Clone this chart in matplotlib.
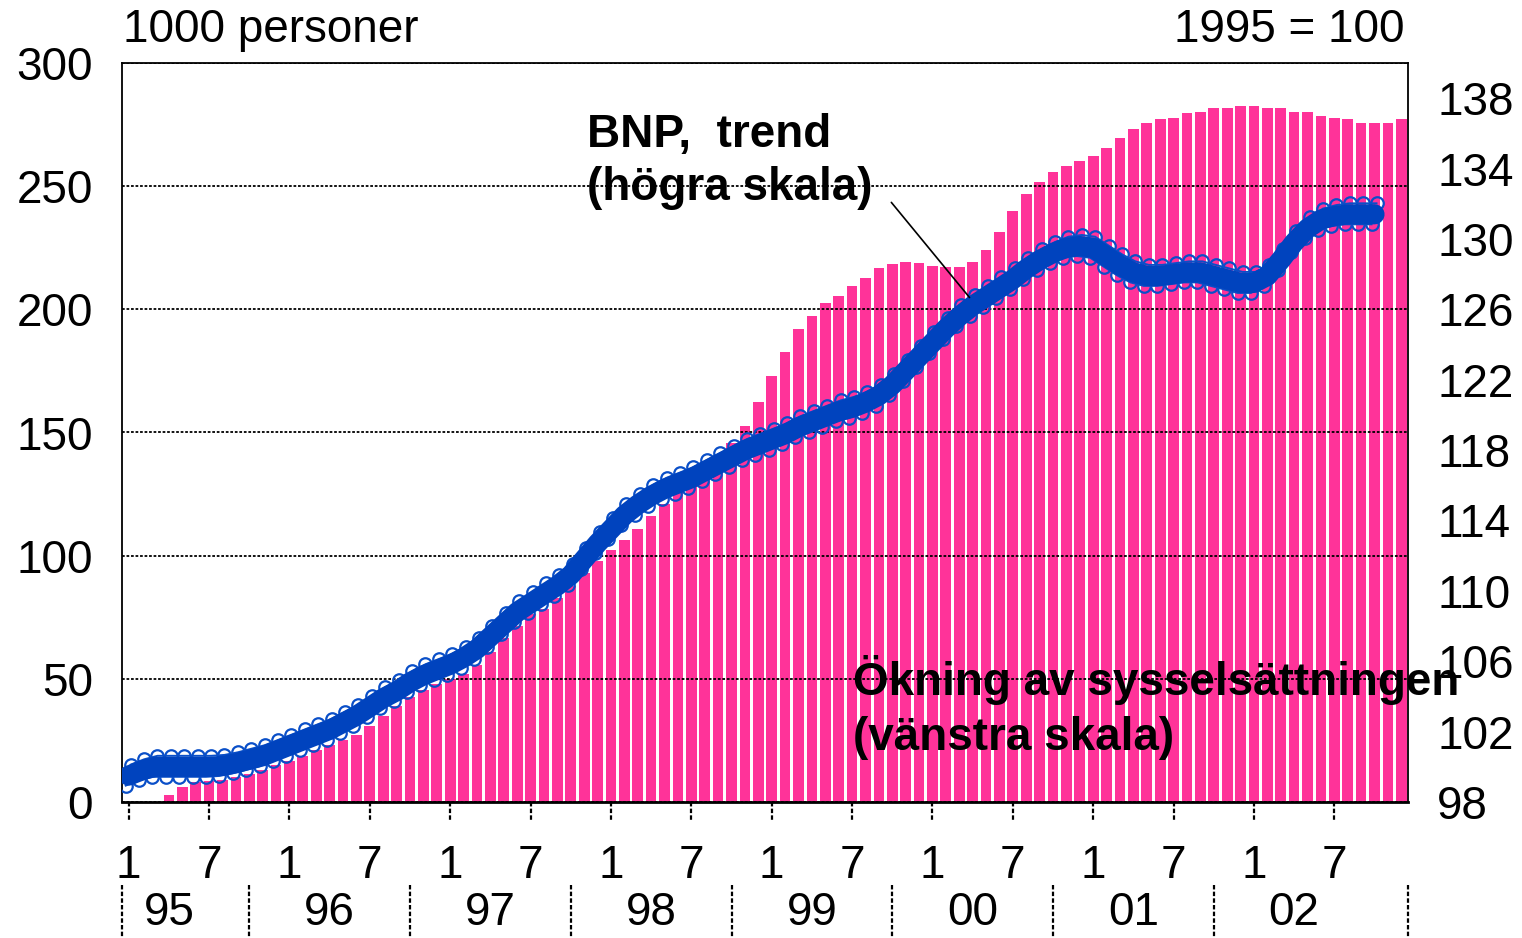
import numpy as np
import matplotlib.pyplot as plt
from matplotlib import transforms

plt.rcParams['font.family'] = ['Liberation Sans', 'DejaVu Sans']

# sysselsättning, ökning sedan jan 1995 (1000 personer), månadsvis 1995-2002
syssel = [0, 0, 0, 3, 6, 8, 8.5, 9, 10, 11.5, 13, 15,
          16.5, 18.5, 21, 23, 25, 27, 31, 35, 39, 42.5, 45.5, 48,
          50, 52, 55.5, 61, 66.5, 71.5, 76.5, 78.5, 83, 87.5, 93, 98,
          102.5, 106.5, 111, 116, 121, 126, 131, 135.5, 140.5, 145.7, 152.6, 162.4,
          172.9, 182.7, 192, 197.3, 202.6, 205.4, 209.5, 212.8, 216.8, 218.6, 219.4, 218.8,
          217.6, 217, 217, 219.2, 224.2, 231.4, 239.8, 247, 251.7, 255.8, 258.2, 260.2,
          262.3, 265.5, 269.6, 273.2, 275.7, 277.3, 277.7, 279.7, 280.1, 281.8, 281.8, 282.6,
          282.6, 281.8, 281.8, 280.1, 280.1, 278.5, 277.7, 277.3, 275.7, 275.7, 275.7, 277.3]

# BNP trend, 1995 = 100 (jan 1995 - okt 2002)
bnp = [99.5, 99.8, 100.0, 100.0, 100.0, 100.0, 100.0, 100.05, 100.2, 100.4, 100.6, 100.9,
       101.2, 101.5, 101.8, 102.1, 102.5, 102.9, 103.4, 103.9, 104.3, 104.8, 105.2, 105.5,
       105.8, 106.2, 106.7, 107.4, 108.1, 108.8, 109.3, 109.8, 110.3, 110.9, 111.8, 112.7,
       113.5, 114.3, 114.9, 115.4, 115.8, 116.1, 116.4, 116.8, 117.2, 117.6, 118.0, 118.3,
       118.6, 118.9, 119.3, 119.6, 119.9, 120.2, 120.4, 120.7, 121.1, 121.7, 122.5, 123.3,
       124.1, 124.9, 125.6, 126.2, 126.7, 127.2, 127.7, 128.3, 128.8, 129.2, 129.5, 129.6,
       129.5, 129.0, 128.5, 128.1, 127.9, 127.9, 128.0, 128.1, 128.1, 127.9, 127.7, 127.5,
       127.5, 127.9, 128.8, 129.8, 130.6, 131.1, 131.3, 131.4, 131.4, 131.4]

years = ['95', '96', '97', '98', '99', '00', '01', '02']
month_labels = ['1', '7']
left_ticks = [0, 50, 100, 150, 200, 250, 300]
right_ticks = [98, 102, 106, 110, 114, 118, 122, 126, 130, 134, 138]

W, H = 1522, 938
fig = plt.figure(figsize=(W / 100, H / 100), dpi=100)
ax = fig.add_axes([122 / W, (H - 802) / H, (1408 - 122) / W, (802 - 63) / H])

x_bar = np.arange(len(syssel)) + 0.5
x_bnp = np.arange(len(bnp)) + 0.5

ax.bar(x_bar, syssel, width=0.8, color='#FF3399', zorder=1)
ax.set_xlim(0, len(syssel))
ax.set_ylim(0, 300)
ax.set_yticks(left_ticks)
ax.yaxis.grid(True, color='black', linestyle=(0, (1.5, 1)), linewidth=1.3, zorder=2)
ax.set_axisbelow(False)
ax.tick_params(axis='y', length=0, pad=21, labelsize=33)
for sp in ax.spines.values():
    sp.set_linestyle((0, (2, 1)))
    sp.set_linewidth(1.3)
ax.spines['bottom'].set_linewidth(2)

# månadsmarkeringar 1 och 7
mpos = np.arange(0, len(syssel), 6) + 0.5
ax.set_xticks(mpos)
ax.set_xticklabels([month_labels[i % 2] for i in range(len(mpos))])
ax.tick_params(axis='x', length=0, pad=30, labelsize=33)
for p in mpos:
    ax.plot([p, p], [0, -20 / 739], transform=ax.get_xaxis_transform(),
            color='black', linestyle=(0, (2, 1)), linewidth=1.6, clip_on=False)

# årsrad
bt = transforms.blended_transform_factory(ax.transData, fig.transFigure)
seps = [0] + [9.5 + 12 * k for k in range(7)] + [len(syssel)]
for s in seps:
    ax.plot([s, s], [1 - 885 / H, 0], transform=bt, color='black',
            linestyle=(0, (2, 1)), linewidth=1.6, clip_on=False)
for k, yl in enumerate(years):
    ax.text(3.5 + 12 * k, 1 - 913 / H, yl, transform=bt, ha='center',
            va='center', fontsize=33)

# höger skala
ax2 = ax.twinx()
ax2.set_ylim(98, 140)
ax2.set_yticks(right_ticks)
ax2.tick_params(axis='y', length=0, pad=21, labelsize=33)
for sp in ax2.spines.values():
    sp.set_visible(False)

col_line = '#0043BE'
col_loop = '#0A4FC8'
up = transforms.offset_copy(ax2.transData, fig=fig, x=2, y=11, units='dots')
dn = transforms.offset_copy(ax2.transData, fig=fig, x=-3, y=-10, units='dots')
ax2.plot(x_bnp, bnp, transform=up, color=col_loop, lw=1.4, marker='o',
         ms=9, mfc='none', mew=1.6, zorder=3)
ax2.plot(x_bnp, bnp, transform=dn, color=col_loop, lw=1.4, marker='o',
         ms=9, mfc='none', mew=1.6, zorder=3)
ax2.plot(x_bnp, bnp, color=col_line, lw=14.5, solid_capstyle='round', zorder=4)

ax2.annotate('', xy=(63.4, 126.55), xytext=(57.3, 132.2),
             arrowprops=dict(arrowstyle='-', color='black', lw=1.2), zorder=5)

def ftxt(x, y, s, **kw):
    fig.text(x / W, 1 - y / H, s, va='baseline', fontsize=33, **kw)

ftxt(123, 42, '1000 personer', ha='left')
ftxt(1405, 42, '1995 = 100', ha='right')
ftxt(587, 147, 'BNP,  trend', ha='left', fontweight='bold')
ftxt(587, 200, '(högra skala)', ha='left', fontweight='bold')
ftxt(853, 695, 'Ökning av sysselsättningen', ha='left', fontweight='bold')
ftxt(853, 750, '(vänstra skala)', ha='left', fontweight='bold')

fig.savefig('out.png', dpi=100)
